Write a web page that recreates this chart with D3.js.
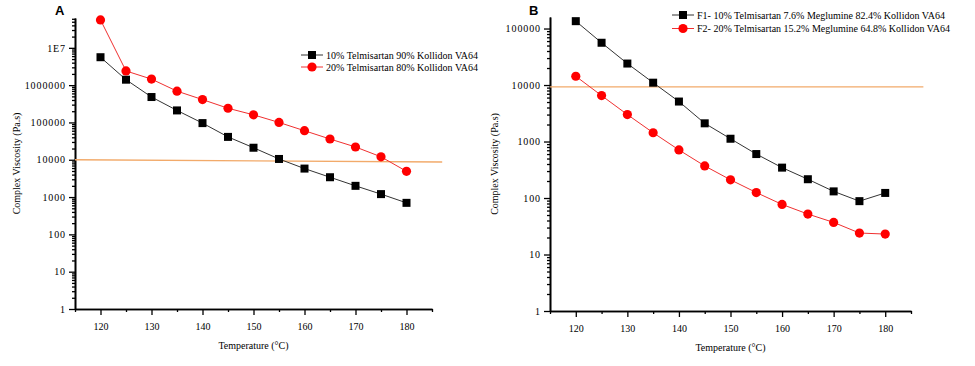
<html>
<head>
<style>
  body { margin: 0; background: #fff; }
</style>
</head>
<body>
<svg id="container" width="975" height="366"></svg>
<script src="https://cdn.jsdelivr.net/npm/d3@7"></script>
<script>
// temperatures (°C)
const temps = [120, 125, 130, 135, 140, 145, 150, 155, 160, 165, 170, 175, 180]

// panel A viscosities (Pa.s)
const aBlack = [5.6e6, 1.4e6, 4.8e5, 2.1e5, 9.6e4, 4.1e4, 2.1e4, 1.05e4, 5.8e3, 3.4e3, 2.0e3, 1.2e3, 700]
const aRed = [5.6e7, 2.4e6, 1.45e6, 6.9e5, 4.1e5, 2.4e5, 1.6e5, 1.0e5, 6.0e4, 3.6e4, 2.2e4, 1.2e4, 4.9e3]
// panel B viscosities (Pa.s)
const bBlack = [1.35e5, 5.6e4, 2.4e4, 1.1e4, 5.1e3, 2.1e3, 1.12e3, 600, 345, 215, 131, 88, 123]
const bRed = [1.43e4, 6.5e3, 3.0e3, 1.43e3, 710, 370, 210, 125, 77, 52, 37, 24, 23]

// orange reference lines [x, y]
const aLimit = [[115, 10000], [187, 8700]]
const bLimit = [[115, 9300], [187.4, 9300]]

const aLegend = ["10% Telmisartan 90% Kollidon VA64", "20% Telmisartan 80% Kollidon VA64"]
const bLegend = ["F1- 10% Telmisartan 7.6% Meglumine 82.4% Kollidon VA64", "F2- 20% Telmisartan 15.2% Meglumine 64.8% Kollidon VA64"]

const aYTicks = [1, 10, 100, 1000, 10000, 100000, 1000000, 1e7]
const aYLabels = ["1", "10", "100", "1000", "10000", "100000", "1000000", "1E7"]
const bYTicks = [1, 10, 100, 1000, 10000, 100000]
const bYLabels = ["1", "10", "100", "1000", "10000", "100000"]
const xTicks = [120, 130, 140, 150, 160, 170, 180]

const serif = "'Liberation Serif', 'DejaVu Serif', serif"
let svg = d3.select("#container")

function drawPanel(p) {
    let g = svg.append("g")
    let x = d3.scaleLinear().domain([115, 185]).range([p.left, p.right])
    let y = d3.scaleLog().domain([1, p.yMax]).range([p.bottom, p.top])

    // minor log ticks
    let minor = []
    for (let e = 0; e < 8; e++) {
        for (let k = 2; k < 10; k++) {
            let v = k * Math.pow(10, e)
            if (v < p.yMax) minor.push(v)
        }
    }
    g.append("g")
        .attr("transform", `translate(${p.left},0)`)
        .call(d3.axisLeft(y).tickValues(minor).tickFormat("").tickSize(3).tickSizeOuter(0))
    let yAxis = g.append("g")
        .attr("transform", `translate(${p.left},0)`)
        .call(d3.axisLeft(y).tickValues(p.yTicks).tickFormat((d, i) => p.yLabels[i]).tickSize(6).tickPadding(3).tickSizeOuter(0))
    yAxis.selectAll("text").style("font-size", "10px").style("letter-spacing", "0.9px")

    // x axis with minor ticks every 5
    g.append("g")
        .attr("transform", `translate(0,${p.bottom})`)
        .call(d3.axisBottom(x).tickValues([115, 125, 135, 145, 155, 165, 175, 185]).tickFormat("").tickSize(3).tickSizeOuter(0))
    let xAxis = g.append("g")
        .attr("transform", `translate(0,${p.bottom})`)
        .call(d3.axisBottom(x).tickValues(xTicks).tickSize(6).tickPadding(8).tickSizeOuter(0))
    xAxis.selectAll("text").style("font-size", "10px")

    g.selectAll(".domain").attr("stroke", "#000").attr("stroke-width", 1.6)
    g.selectAll(".tick line").attr("stroke", "#000").attr("stroke-width", 1.3)

    // orange limit line
    g.append("path")
        .attr("d", d3.line().x(d => x(d[0])).y(d => y(d[1]))(p.limit))
        .attr("stroke", "#f2aa6a")
        .attr("stroke-width", 1.3)
        .attr("fill", "none")

    let series = [
        { vals: p.black, color: "#000", line: "#333", shape: "square" },
        { vals: p.red, color: "#ff0000", line: "#f03030", shape: "circle" }
    ]
    series.forEach(s => {
        let pts = temps.map((t, i) => [t, s.vals[i]])
        g.append("path")
            .attr("d", d3.line().x(d => x(d[0])).y(d => y(d[1]))(pts))
            .attr("stroke", s.line)
            .attr("stroke-width", 1)
            .attr("fill", "none")
        if (s.shape == "square") {
            g.selectAll(null).data(pts).enter().append("rect")
                .attr("x", d => x(d[0]) - 4).attr("y", d => y(d[1]) - 4)
                .attr("width", 8).attr("height", 8)
                .attr("fill", s.color)
        } else {
            g.selectAll(null).data(pts).enter().append("circle")
                .attr("cx", d => x(d[0])).attr("cy", d => y(d[1]))
                .attr("r", 4.6)
                .attr("fill", s.color)
        }
    })

    // legend
    p.legend.forEach((txt, i) => {
        let ly = p.legY + i * p.legGap
        let s = series[i]
        g.append("line")
            .attr("x1", p.legX).attr("x2", p.legX + 22)
            .attr("y1", ly).attr("y2", ly)
            .attr("stroke", s.line).attr("stroke-width", 1)
        if (s.shape == "square") {
            g.append("rect").attr("x", p.legX + 7).attr("y", ly - 4).attr("width", 8).attr("height", 8).attr("fill", s.color)
        } else {
            g.append("circle").attr("cx", p.legX + 11).attr("cy", ly).attr("r", 4.6).attr("fill", s.color)
        }
        g.append("text")
            .attr("x", p.legX + 25).attr("y", ly + 3.5)
            .style("font-size", "10px")
            .text(txt)
    })

    // axis titles
    g.append("text")
        .attr("x", (p.left + p.right) / 2).attr("y", p.bottom + 40)
        .attr("text-anchor", "middle")
        .style("font-size", "10px")
        .text("Temperature (°C)")
    g.append("text")
        .attr("transform", `translate(${p.yTitleX},${(p.top + p.bottom) / 2}) rotate(-90)`)
        .attr("text-anchor", "middle")
        .style("font-size", "10px")
        .text("Complex Viscosity (Pa.s)")

    // all text in serif
    g.selectAll("text").style("font-family", serif)

    // panel letter
    g.append("text")
        .attr("x", p.labelX).attr("y", 15)
        .style("font-family", "'Liberation Sans', Arial, sans-serif")
        .style("font-weight", "bold")
        .style("font-size", "13px")
        .text(p.label)
}

drawPanel({
    left: 75, right: 432, top: 18, bottom: 309, yMax: 6.3e7,
    yTicks: aYTicks, yLabels: aYLabels,
    black: aBlack, red: aRed, limit: aLimit,
    legend: aLegend, legX: 301, legY: 55, legGap: 12,
    yTitleX: 20, label: "A", labelX: 55
})
drawPanel({
    left: 550, right: 911, top: 17, bottom: 311, yMax: 1.6e5,
    yTicks: bYTicks, yLabels: bYLabels,
    black: bBlack, red: bRed, limit: bLimit,
    legend: bLegend, legX: 672, legY: 15, legGap: 13.5,
    yTitleX: 498, label: "B", labelX: 529
})
</script>
</body>
</html>
